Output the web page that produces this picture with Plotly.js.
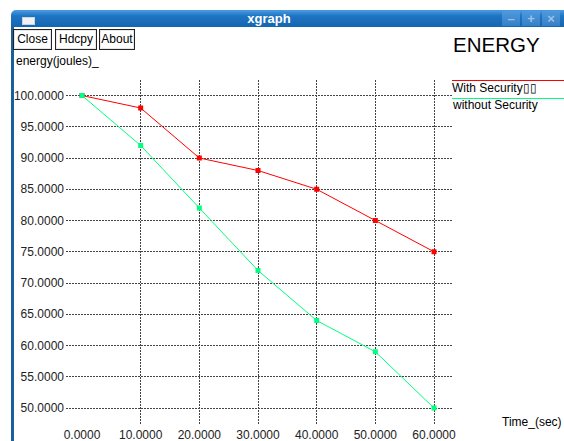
<!DOCTYPE html>
<html>
<head>
<meta charset="utf-8">
<script src="https://cdn.plot.ly/plotly-3.0.1.min.js"></script>
<style>
  html, body { margin:0; padding:0; background:#ffffff; width:564px; height:441px; overflow:hidden; font-family:"Liberation Sans", Arial, sans-serif; }
  #titlebar { position:absolute; left:11px; top:10px; width:570px; height:17px; border-top-left-radius:5px;
    background:linear-gradient(to bottom, #4a9de2 0%, #1f74c2 35%, #1566b0 100%); }
  #leftborder { position:absolute; left:11px; top:27px; width:3px; height:420px; background:#1b5f9b; }
  #icon { position:absolute; left:22px; top:17px; width:11px; height:6px; background:#f2f2f2; border:1px solid #c8d4e0; }
  #ttext { position:absolute; left:219px; width:100px; top:10px; height:17px; line-height:17px; text-align:center;
    color:#ffffff; font-weight:bold; font-size:13px; }
  .wbtn { position:absolute; top:11px; width:18px; height:15px; background:linear-gradient(to bottom,#4f9ade,#347fc6);
    color:#9cc3e6; font-size:13px; font-weight:bold; line-height:15px; text-align:center; }
  .btn { position:absolute; top:29px; height:19px; border:1px solid #222; background:#fff; font-size:12px; line-height:19px;
    text-align:center; color:#000; box-shadow: inset 0 0 0 1px #e8e8e8; }
  #plot { position:absolute; left:0; top:0; width:564px; height:441px; z-index:2; }
</style>
</head>
<body>
<div id="titlebar"></div>
<div id="leftborder"></div>
<div id="icon"></div>
<div id="ttext">xgraph</div>
<div class="wbtn" style="left:502px;">&#8211;</div>
<div class="wbtn" style="left:522px;">+</div>
<div class="wbtn" style="left:542px;">&#215;</div>
<div class="btn" style="left:13px; width:37px;">Close</div>
<div class="btn" style="left:55px; width:40px;">Hdcpy</div>
<div class="btn" style="left:99px; width:34px;">About</div>
<div id="plot"></div>
<script>
// ---- data ----
const timeSec = [0, 10, 20, 30, 40, 50, 60];
const withSecurity = [100, 98, 90, 88, 85, 80, 75];
const withoutSecurity = [100, 92, 82, 72, 64, 59, 50];
const xTickVals = [0, 10, 20, 30, 40, 50, 60];
const xGridVals = [10, 20, 30, 40, 50, 60];
const yTickVals = [50, 55, 60, 65, 70, 75, 80, 85, 90, 95, 100];
const seriesNames = ["With Security\u25AF\u25AF", "without Security"];
const chartTitle = "ENERGY";
const yLabel = "energy(joules)_";
const xLabel = "Time_(sec)";

// ---- layout geometry (pixels) ----
const W = 564, H = 441;
const mL = 66, mR = 112, mT = 80, mB = 16;
const pw = W - mL - mR, ph = H - mT - mB;
const px = x => (x - mL) / pw;
const py = y => (H - mB - y) / ph;

const FONT = "Liberation Sans, Arial, sans-serif";
const RED = "#ff0000", GREEN = "#00ff7f";
const xr = [-2.727, 63.068], yr = [47.28, 102.48];

const traces = [
  { x: timeSec, y: withSecurity, name: seriesNames[0], type: "scatter", mode: "lines+markers",
    line: { color: RED, width: 1 }, marker: { symbol: "square", size: 5, color: RED }, xaxis: "x", yaxis: "y" },
  { x: timeSec, y: withoutSecurity, name: seriesNames[1], type: "scatter", mode: "lines+markers",
    line: { color: GREEN, width: 1 }, marker: { symbol: "square", size: 5, color: GREEN }, xaxis: "x2", yaxis: "y" }
];

const grid = { gridcolor: "#444444", gridwidth: 1, griddash: "2px,1px" };
const tickFont = { family: FONT, size: 12, color: "#222" };

const layout = {
  width: W, height: H,
  margin: { l: mL, r: mR, t: mT, b: mB, pad: 0 },
  paper_bgcolor: "rgba(0,0,0,0)", plot_bgcolor: "rgba(0,0,0,0)",
  showlegend: false,
  xaxis: Object.assign({ range: xr, tickmode: "array", tickvals: xGridVals, showticklabels: false,
    showgrid: true, zeroline: false, showline: false, ticks: "" }, grid),
  xaxis2: { range: xr, overlaying: "x", side: "bottom", tickmode: "array", tickvals: xTickVals,
    tickformat: ".4f", showgrid: false, zeroline: false, showline: false, ticks: "",
    tickfont: tickFont, ticklabelstandoff: 1 },
  yaxis: Object.assign({ range: yr, tickmode: "array", tickvals: yTickVals, tickformat: ".4f",
    showgrid: true, zeroline: false, showline: false, ticks: "", tickfont: tickFont, ticklabelstandoff: 1 }, grid),
  shapes: [
    { type: "line", xref: "paper", yref: "paper", layer: "above", x0: px(452), x1: px(566), y0: py(80.5), y1: py(80.5), line: { color: RED, width: 1 } },
    { type: "line", xref: "paper", yref: "paper", layer: "above", x0: px(452), x1: px(566), y0: py(98.5), y1: py(98.5), line: { color: GREEN, width: 1 } }
  ],
  annotations: [
    { text: chartTitle, xref: "paper", yref: "paper", x: px(451), y: py(44.5), xanchor: "left", yanchor: "middle",
      showarrow: false, font: { family: FONT, size: 20.5, color: "#000" } },
    { text: yLabel, xref: "paper", yref: "paper", x: px(14), y: py(61), xanchor: "left", yanchor: "middle",
      showarrow: false, font: { family: FONT, size: 12, color: "#000" } },
    { text: xLabel, xref: "paper", yref: "paper", x: px(500), y: py(422), xanchor: "left", yanchor: "middle",
      showarrow: false, font: { family: FONT, size: 12, color: "#000" } },
    { text: seriesNames[0], xref: "paper", yref: "paper", x: px(450), y: py(87.5), xanchor: "left", yanchor: "middle",
      showarrow: false, font: { family: FONT, size: 12, color: "#000" } },
    { text: seriesNames[1], xref: "paper", yref: "paper", x: px(450), y: py(105), xanchor: "left", yanchor: "middle",
      showarrow: false, font: { family: FONT, size: 12, color: "#000" } }
  ]
};

Plotly.newPlot("plot", traces, layout, { displayModeBar: false, staticPlot: true });
</script>
</body>
</html>
